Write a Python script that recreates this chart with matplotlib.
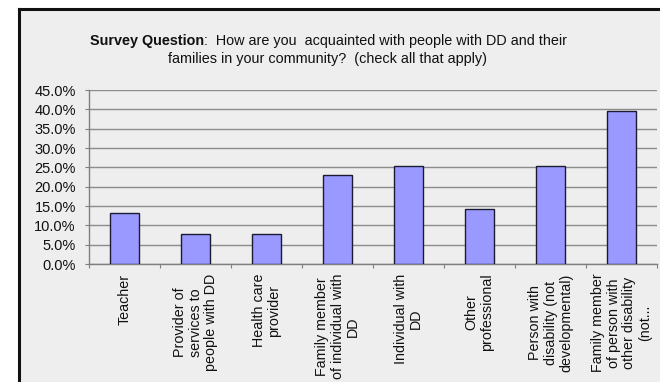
import matplotlib
matplotlib.use("Agg")
import matplotlib.pyplot as plt
from matplotlib.patches import Rectangle
from matplotlib.lines import Line2D
from matplotlib.ticker import FuncFormatter, MultipleLocator

categories = [
    "Teacher",
    "Provider of\nservices to\npeople with DD",
    "Health care\nprovider",
    "Family member\nof individual with\nDD",
    "Individual with\nDD",
    "Other\nprofessional",
    "Person with\ndisability (not\ndevelopmental)",
    "Family member\nof person with\nother disability\n(not...",
]
values = [13.1, 7.7, 7.7, 23.0, 25.3, 14.2, 25.3, 39.6]

plt.rcParams["font.family"] = ["Liberation Sans", "DejaVu Sans"]

W, H = 660, 382
fig = plt.figure(figsize=(W / 100, H / 100), dpi=100)
fig.patch.set_facecolor("white")

# chart area background with dark frame on top and left
x0, y0 = 19 / W, 1 - 9 / H
fig.patches.append(Rectangle((x0, 0), 1 - x0, y0, transform=fig.transFigure,
                             facecolor="#eeeeee", edgecolor="none", zorder=-5))
fig.lines.append(Line2D([x0, x0], [0, y0], transform=fig.transFigure,
                        color="#111111", lw=2.2, zorder=-4))
fig.lines.append(Line2D([x0, 1], [y0, y0], transform=fig.transFigure,
                        color="#111111", lw=2.2, zorder=-4))

ax = fig.add_axes([89 / W, 1 - 264 / H, (657 - 89) / W, (264 - 90) / H])
ax.set_facecolor("none")

# title: bold lead-in followed by the question text
title_size = 10.4
t1 = fig.text(90 / W, 1 - 41 / H, "Survey Question", ha="left", va="center",
              fontsize=title_size, fontweight="bold", color="#111111")
ax.annotate(":  How are you  acquainted with people with DD and their",
            xy=(1, 0.5), xycoords=t1, ha="left", va="center",
            fontsize=title_size, annotation_clip=False, color="#111111")
fig.text(327 / W, 1 - 59 / H,
         "families in your community?  (check all that apply)",
         ha="center", va="center", fontsize=title_size, color="#111111")

x = list(range(len(categories)))
ax.bar(x, values, width=0.41, color="#9999ff", edgecolor="#1a1a33",
       linewidth=1.0, zorder=3)

ax.set_xlim(-0.5, len(categories) - 0.5)
ax.set_ylim(0, 45)
ax.yaxis.set_major_locator(MultipleLocator(5))
ax.yaxis.set_major_formatter(FuncFormatter(lambda v, p: f"{v:.1f}%"))
ax.grid(axis="y", color="#8c8c8c", linewidth=1.0, zorder=1)

for s in ["top", "right"]:
    ax.spines[s].set_visible(False)
for s in ["left", "bottom"]:
    ax.spines[s].set_color("#7f7f7f")
    ax.spines[s].set_linewidth(1.0)

ax.tick_params(axis="y", length=3, color="#7f7f7f", labelsize=10.5, pad=6.5,
               labelcolor="#111111")
ax.set_xticks([i - 0.5 for i in range(len(categories) + 1)])
ax.set_xticklabels([])
ax.tick_params(axis="x", length=3, color="#7f7f7f", direction="out")

for i, lab in enumerate(categories):
    ax.annotate(lab, xy=(i, 0), xytext=(0, -7), textcoords="offset points",
                rotation=90, ha="center", va="top", multialignment="center",
                fontsize=10.3, linespacing=1.15, color="#111111",
                annotation_clip=False)

fig.savefig("out.png", dpi=100, facecolor=fig.get_facecolor())
